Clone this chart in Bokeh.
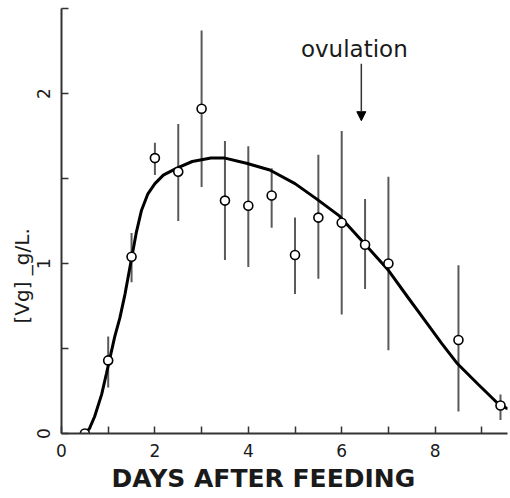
from bokeh.plotting import figure
from bokeh.models import Range1d, FixedTicker, Label, Arrow, NormalHead, ColumnDataSource, Title
from bokeh.embed import file_html
from bokeh.resources import INLINE

# Measured data (days after feeding, [Vg])
days = [0.5, 1.0, 1.5, 2.0, 2.5, 3.0, 3.5, 4.0, 4.5, 5.0, 5.5, 6.0, 6.5, 7.0, 8.5, 9.4]
vg = [0.0, 0.43, 1.04, 1.62, 1.54, 1.91, 1.37, 1.34, 1.40, 1.05, 1.27, 1.24, 1.11, 1.00, 0.55, 0.165]
vg_low = [0.0, 0.27, 0.89, 1.52, 1.25, 1.45, 1.02, 0.98, 1.21, 0.82, 0.91, 0.70, 0.85, 0.49, 0.13, 0.08]
vg_high = [0.0, 0.57, 1.18, 1.71, 1.82, 2.37, 1.72, 1.69, 1.56, 1.27, 1.64, 1.78, 1.38, 1.51, 0.99, 0.23]

# Fitted curve
curve_x = [0.5, 0.6, 0.71, 0.86, 0.96, 1.14, 1.25, 1.36, 1.5, 1.6, 1.71, 1.85, 2.0, 2.18, 2.46, 2.8,
           3.2, 3.5, 3.96, 4.46, 5.0, 5.46, 5.95, 6.46, 7.0, 7.42, 7.78, 8.14, 8.48, 8.92, 9.35, 9.56]
curve_y = [0.0, 0.03, 0.1, 0.23, 0.35, 0.57, 0.68, 0.82, 1.03, 1.18, 1.31, 1.41, 1.47, 1.52, 1.56, 1.6,
           1.62, 1.62, 1.59, 1.55, 1.47, 1.38, 1.28, 1.125, 0.96, 0.80, 0.665, 0.53, 0.41, 0.29, 0.175, 0.145]

x_ticks = [0, 1, 2, 3, 4, 5, 6, 7, 8, 9]
x_tick_labels = {0: "0", 1: "", 2: "2", 3: "", 4: "4", 5: "", 6: "6", 7: "", 8: "8", 9: ""}
y_ticks = [0, 0.5, 1, 1.5, 2, 2.5]
y_tick_labels = {0: "0", 0.5: "", 1: "1", 1.5: "", 2: "2", 2.5: ""}

x_title = "DAYS AFTER FEEDING"
y_title = "[Vg] _g/L."
note_text = "ovulation"
note_pos = (6.27, 2.26)
arrow_x = 6.42
arrow_from = 2.175
arrow_to = 1.84

FONT = "DejaVu Sans"
INK = "#1a1a1a"

p = figure(width=510, height=498, output_backend="svg", toolbar_location=None,
           x_range=Range1d(0, 9.55), y_range=Range1d(0, 2.5),
           min_border_left=61, min_border_right=3, min_border_top=8, min_border_bottom=65)
p.outline_line_color = None
p.grid.grid_line_color = None
p.background_fill_color = "white"
p.border_fill_color = "white"

for ax in (p.xaxis[0], p.yaxis[0]):
    ax.axis_line_width = 2
    ax.axis_line_color = "#333333"
    ax.major_tick_line_color = "#333333"
    ax.major_tick_line_width = 1.5
    ax.major_tick_in = 7
    ax.major_tick_out = 0
    ax.minor_tick_line_color = None
    ax.major_label_text_font = FONT
    ax.major_label_text_font_size = "17px"
    ax.major_label_text_color = INK

p.xaxis.ticker = FixedTicker(ticks=x_ticks)
p.xaxis.major_label_overrides = x_tick_labels
p.xaxis.major_label_standoff = 10
p.yaxis.ticker = FixedTicker(ticks=y_ticks)
p.yaxis.major_label_overrides = y_tick_labels
p.yaxis.major_label_orientation = "vertical"
p.yaxis.major_label_standoff = 12

src = ColumnDataSource(dict(x=days, y=vg, lo=vg_low, hi=vg_high))
p.segment(x0="x", y0="lo", x1="x", y1="hi", source=src, line_color="#5a5a5a", line_width=2)
p.line(curve_x, curve_y, line_color="black", line_width=3)
p.scatter(x="x", y="y", source=src, marker="circle", size=9, fill_color="white",
          line_color="black", line_width=1.6)

p.add_layout(Arrow(end=NormalHead(size=9, fill_color="black", line_color="black"),
                   x_start=arrow_x, y_start=arrow_from, x_end=arrow_x, y_end=arrow_to,
                   line_color="#333333", line_width=1.5))
p.add_layout(Label(x=note_pos[0], y=note_pos[1], text=note_text, text_align="center",
                   text_baseline="middle", text_font=FONT, text_font_size="23px", text_color=INK))

p.add_layout(Title(text=x_title, align="left", offset=50, text_font=FONT,
                   text_font_size="25px", text_font_style="bold", text_color=INK,
                   standoff=4), "below")
p.add_layout(Title(text=y_title, align="left", offset=110, text_font=FONT,
                   text_font_size="20px", text_font_style="normal", text_color=INK,
                   standoff=0), "left")

open("out.html", "w").write(file_html(p, INLINE))
